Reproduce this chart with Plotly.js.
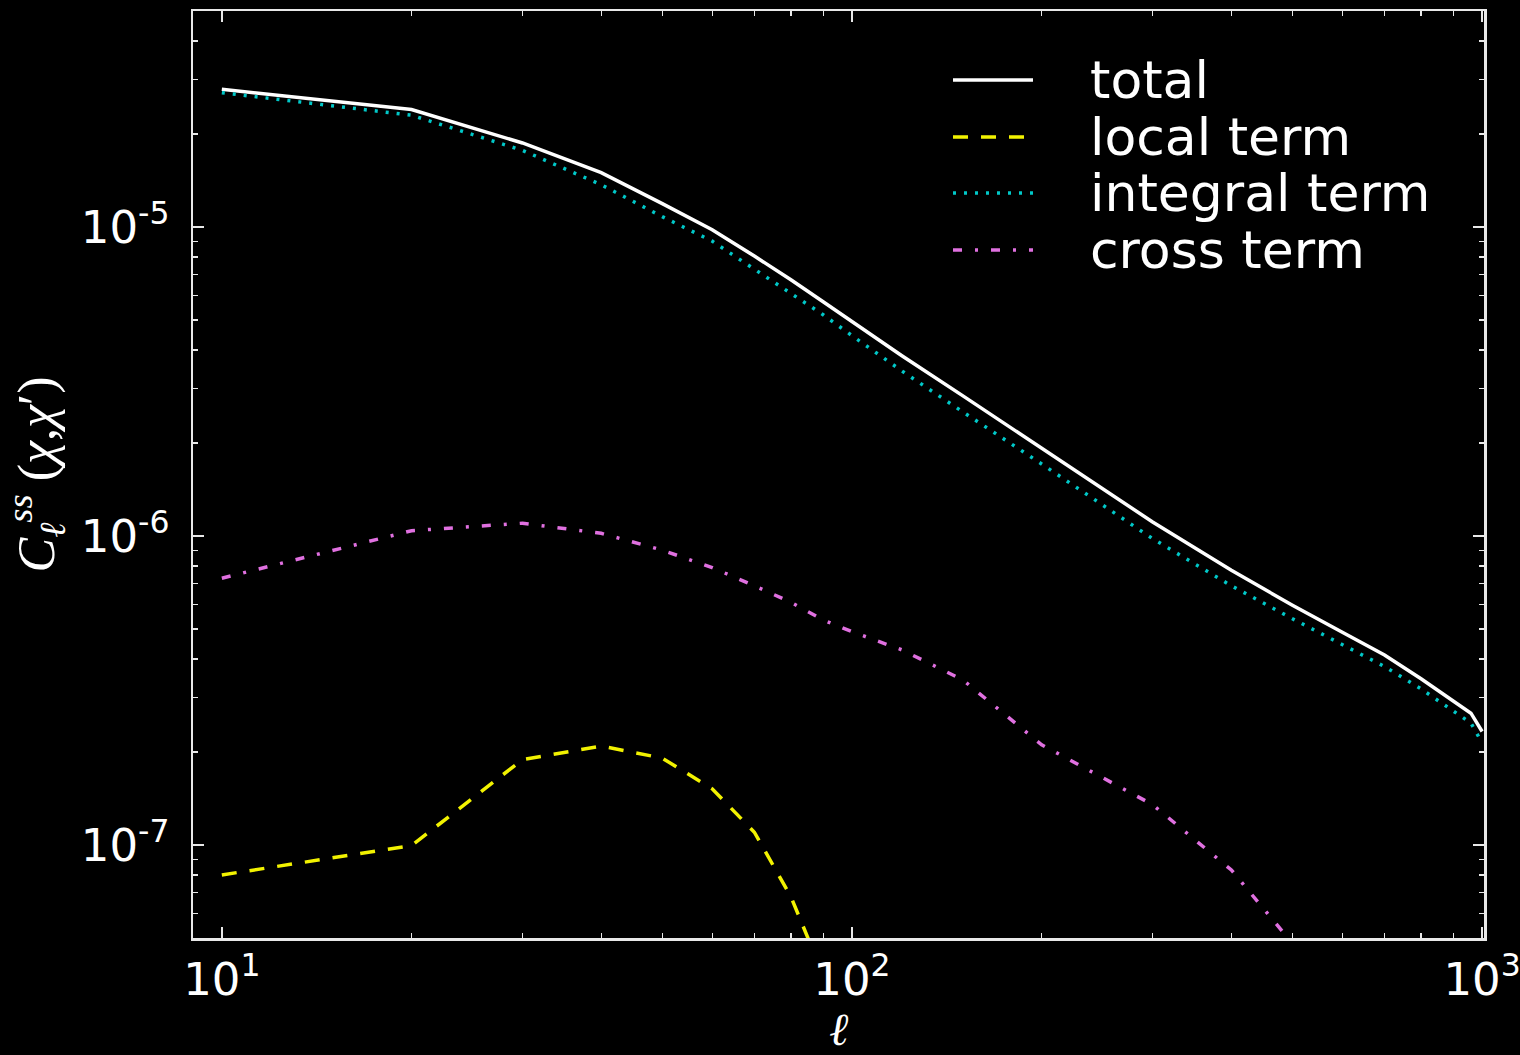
<!DOCTYPE html>
<html>
<head>
<meta charset="utf-8">
<script src="https://cdn.plot.ly/plotly-3.0.1.min.js"></script>
<style>html,body{margin:0;padding:0;background:#000;}#chart{width:1520px;height:1055px;}</style>
</head>
<body>
<div id="chart"></div>
<script>
// multipole ell
const ell = [10,20,30,40,50,60,70,80,90,100,120,150,200,300,400,500,600,700,800,900,960,1000];
// series values
const totalTerm = [2.79e-5,2.40e-5,1.87e-5,1.50e-5,1.19e-5,9.8e-6,8.05e-6,6.75e-6,5.73e-6,4.93e-6,3.83e-6,2.84e-6,1.92e-6,1.11e-6,7.74e-7,5.97e-7,4.88e-7,4.12e-7,3.45e-7,2.92e-7,2.67e-7,2.33e-7];
const localTerm = [8.0e-8,9.95e-8,1.89e-7,2.09e-7,1.91e-7,1.52e-7,1.10e-7,6.8e-8,3.8e-8,null,null,null,null,null,null,null,null,null,null,null,null,null];
const integralTerm = [2.72e-5,2.30e-5,1.77e-5,1.37e-5,1.08e-5,9.0e-6,7.3e-6,6.1e-6,5.2e-6,4.45e-6,3.42e-6,2.52e-6,1.71e-6,9.8e-7,6.9e-7,5.4e-7,4.45e-7,3.78e-7,3.2e-7,2.72e-7,2.48e-7,2.14e-7];
const crossTerm = [7.3e-7,1.04e-6,1.10e-6,1.02e-6,9.0e-7,7.9e-7,6.9e-7,6.1e-7,5.35e-7,4.9e-7,4.28e-7,3.42e-7,2.11e-7,1.35e-7,8.3e-8,4.8e-8,null,null,null,null,null,null];
const seriesNames = ["total","local term","integral term","cross term"];
// tick labels
const xTickVals = [10,100,1000];
const xTickText = ["10<sup>1</sup>","10<sup>2</sup>","10<sup>3</sup>"];
const yTickVals = [1e-7,1e-6,1e-5];
const yTickText = ["10<sup>-7</sup>","10<sup>-6</sup>","10<sup>-5</sup>"];
const xTitle = "<i>ℓ</i>";
const yTitle = "<i>C</i><sub><i>ℓ</i></sub><sup><i>ss</i></sup> (<i>χ</i>,<i>χ</i>′)";

const colors = ["#ffffff","#f2f200","#00c8c8","#e070e0"];
const dashes = ["solid","15px,13px","3px,8px","9px,13px,3px,13px"];
const widths = [3.5,3.5,3.5,3.5];
const ys = [totalTerm, localTerm, integralTerm, crossTerm];

const traces = ys.map((y,i)=>({
  x: ell, y: y, type:'scatter', mode:'lines', name: seriesNames[i],
  line:{color:colors[i], width:widths[i], dash:dashes[i]}, showlegend:false,
  connectgaps:false, hoverinfo:'skip'
}));

// plot area in px
const L=193, R=1484, T=11, B=938;
const px2x = p => (p-L)/(R-L);
const px2y = p => (B-p)/(B-T);

const shapes = [], annotations = [];
const rowY = [80,137,193,250];
seriesNames.forEach((n,i)=>{
  shapes.push({type:'line', xref:'paper', yref:'paper', x0:px2x(953), x1:px2x(1033), y0:px2y(rowY[i]), y1:px2y(rowY[i]),
    line:{color:colors[i], width:widths[i], dash:dashes[i]}});
  annotations.push({xref:'paper', yref:'paper', x:px2x(1088), y:px2y(rowY[i]), xanchor:'left', yanchor:'middle',
    text:n, showarrow:false, font:{family:'DejaVu Sans', size:52, color:'#ffffff'}});
});

const axisCommon = {
  type:'log', showline:true, mirror:'allticks', linecolor:'#e8e8e8', linewidth:2.5,
  ticks:'inside', ticklen:11, tickwidth:1.5, tickcolor:'#e8e8e8',
  showgrid:false, zeroline:false, tickmode:'array', ticklabeloverflow:'allow',
  tickfont:{family:'DejaVu Sans', size:45, color:'#ffffff'},
  minor:{ticks:'inside', ticklen:5, tickwidth:1.2, tickcolor:'#e8e8e8', dtick:'D1', showgrid:false}
};

const layout = {
  width:1520, height:1055,
  paper_bgcolor:'#000000', plot_bgcolor:'#000000',
  margin:{l:L, r:1520-R, t:T, b:1055-B, pad:0},
  showlegend:false,
  xaxis:Object.assign({}, axisCommon, {
    range:[Math.log10(9), 3.003],
    tickvals:xTickVals, ticktext:xTickText,
    ticklabelstandoff:0,
    title:{text:xTitle, font:{family:'Liberation Serif', size:46, color:'#ffffff'}, standoff:8}
  }),
  yaxis:Object.assign({}, axisCommon, {
    range:[Math.log10(5e-8), Math.log10(5e-5)],
    tickvals:yTickVals, ticktext:yTickText,
    ticklabelstandoff:12,
    title:{text:yTitle, font:{family:'Liberation Serif', size:52, color:'#ffffff'}, standoff:16}
  }),
  shapes:shapes, annotations:annotations
};

Plotly.newPlot('chart', traces, layout, {displayModeBar:false, staticPlot:true});
</script>
</body>
</html>
